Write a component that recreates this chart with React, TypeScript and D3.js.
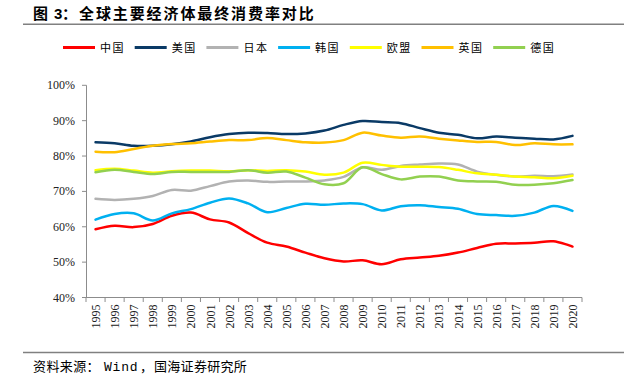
import React from "react";
import * as d3 from "d3";

const years = [
  "1995","1996","1997","1998","1999","2000","2001","2002","2003","2004","2005","2006","2007",
  "2008","2009","2010","2011","2012","2013","2014","2015","2016","2017","2018","2019","2020",
];
const china = [59.3,60.3,59.9,60.8,63.1,64.0,62.1,61.2,58.2,55.5,54.4,52.7,51.1,50.2,50.5,49.4,50.8,51.3,51.8,52.7,54.0,55.2,55.3,55.5,55.9,54.4];
const usa = [83.9,83.6,82.9,82.9,83.3,84.1,85.3,86.2,86.6,86.5,86.2,86.4,87.2,88.8,89.9,89.6,89.3,87.9,86.6,86.0,85.0,85.5,85.2,84.9,84.7,85.7];
const japan = [67.9,67.6,67.9,68.7,70.4,70.2,71.5,72.8,73.1,72.7,72.8,72.8,73.1,74.1,76.8,76.1,77.2,77.6,77.9,77.6,75.6,74.7,74.2,74.4,74.3,74.8];
const korea = [62.0,63.6,63.8,61.8,63.8,65.0,66.8,68.0,66.6,64.1,65.3,66.5,66.2,66.6,66.4,64.6,65.8,66.1,65.6,65.1,63.6,63.3,63.1,64.0,65.9,64.5];
const eu = [76.0,76.4,75.9,75.3,75.7,75.9,75.9,75.7,76.0,75.8,76.0,75.6,74.7,75.3,78.1,77.5,77.0,77.0,76.9,76.1,75.1,74.7,74.2,74.0,73.7,74.4];
const uk = [81.2,81.1,82.0,82.9,83.4,83.6,84.1,84.5,84.5,85.1,84.5,83.9,83.8,84.5,86.6,85.8,85.2,85.5,84.9,84.4,84.0,84.0,83.1,83.6,83.3,83.3];
const germany = [75.4,76.1,75.5,74.9,75.5,75.5,75.5,75.5,76.0,75.3,75.6,73.9,72.0,72.3,76.8,74.9,73.4,74.2,74.2,73.1,72.8,72.7,71.9,71.9,72.3,73.2];
const yTicks = [40, 50, 60, 70, 80, 90, 100];

const seriesNames = ["中国", "美国", "日本", "韩国", "欧盟", "英国", "德国"];
const seriesValues = [china, usa, japan, korea, eu, uk, germany];
const seriesColors = ["#FF0000", "#0A3A66", "#B2B2B2", "#00B0F0", "#FFFF00", "#FFC000", "#92D050"];

export default function App() {
  const W = 624, H = 378;
  const x = d3.scaleBand<string>().domain(years).range([86, 582]);
  const y = d3.scaleLinear().domain([40, 100]).range([297.5, 85.3]);
  const line = d3
    .line<number>()
    .x((_, i) => (x(years[i]) as number) + x.bandwidth() / 2)
    .y((d) => y(d))
    .curve(d3.curveCatmullRom);
  const axisColor = "#8C8C8C";
  const cjk = "'Noto Sans CJK SC', sans-serif";
  const serif = "'Liberation Serif', 'Times New Roman', serif";

  return (
    <svg width={W} height={H} style={{ position: "absolute", left: 0, top: 0, background: "#fff" }}>
      {/* title */}
      <text y={18.5} fontFamily={cjk} fontWeight="bold" fontSize={15} fill="#000">
        <tspan x={33}>图</tspan>
        <tspan x={54} fontFamily="'Liberation Sans', Arial, sans-serif">3</tspan>
        <tspan x={62}>：</tspan>
        <tspan x={79} letterSpacing={1.9}>全球主要经济体最终消费率对比</tspan>
      </text>
      <line x1={23} x2={624} y1={24.3} y2={24.3} stroke="#808080" strokeWidth={1.5} />

      {/* legend */}
      {seriesNames.map((n, i) => {
        const lx = 63 + i * 71.7;
        return (
          <g key={n}>
            <line x1={lx} x2={lx + 32} y1={47.5} y2={47.5} stroke={seriesColors[i]} strokeWidth={3} />
            <text x={lx + 37} y={51.5} fontFamily={cjk} fontSize={11} letterSpacing={1.5} fill="#000">
              {n}
            </text>
          </g>
        );
      })}

      {/* y axis */}
      <line x1={86.5} x2={86.5} y1={y(100)} y2={y(40)} stroke={axisColor} strokeWidth={1} />
      {yTicks.map((t) => (
        <g key={t}>
          <line x1={82} x2={86.5} y1={y(t)} y2={y(t)} stroke={axisColor} strokeWidth={1} />
          <text x={75} y={y(t) + 4} textAnchor="end" fontFamily={serif} fontSize={12} fill="#222">
            {t}%
          </text>
        </g>
      ))}

      {/* x axis */}
      <line x1={86} x2={582} y1={297.5} y2={297.5} stroke={axisColor} strokeWidth={1} />
      {[...years.map((yr) => x(yr) as number), 582].map((px, i) => (
        <line key={i} x1={px} x2={px} y1={297.5} y2={302} stroke={axisColor} strokeWidth={1} />
      ))}
      {years.map((yr) => {
        const cx = (x(yr) as number) + x.bandwidth() / 2 + 0.5;
        return (
          <text
            key={yr}
            transform={`translate(${cx},${304.5}) rotate(-90)`}
            textAnchor="end"
            dominantBaseline="central"
            fontFamily={serif}
            fontSize={12}
            fill="#222"
          >
            {yr}
          </text>
        );
      })}

      {/* series */}
      {seriesValues.map((vals, i) => (
        <path
          key={seriesNames[i]}
          d={line(vals) as string}
          fill="none"
          stroke={seriesColors[i]}
          strokeWidth={2.5}
          strokeLinejoin="round"
          strokeLinecap="round"
        />
      ))}

      {/* footer */}
      <line x1={23} x2={624} y1={352.5} y2={352.5} stroke="#808080" strokeWidth={1.5} />
      <text y={371} fontFamily={cjk} fontSize={13} fill="#000">
        <tspan x={33} letterSpacing={0.4}>资料来源：</tspan>
        <tspan x={104} fontFamily="'Liberation Mono', monospace" letterSpacing={0.8}>Wind</tspan>
        <tspan x={140}>，</tspan>
        <tspan x={154} letterSpacing={0.3}>国海证券研究所</tspan>
      </text>
    </svg>
  );
}
